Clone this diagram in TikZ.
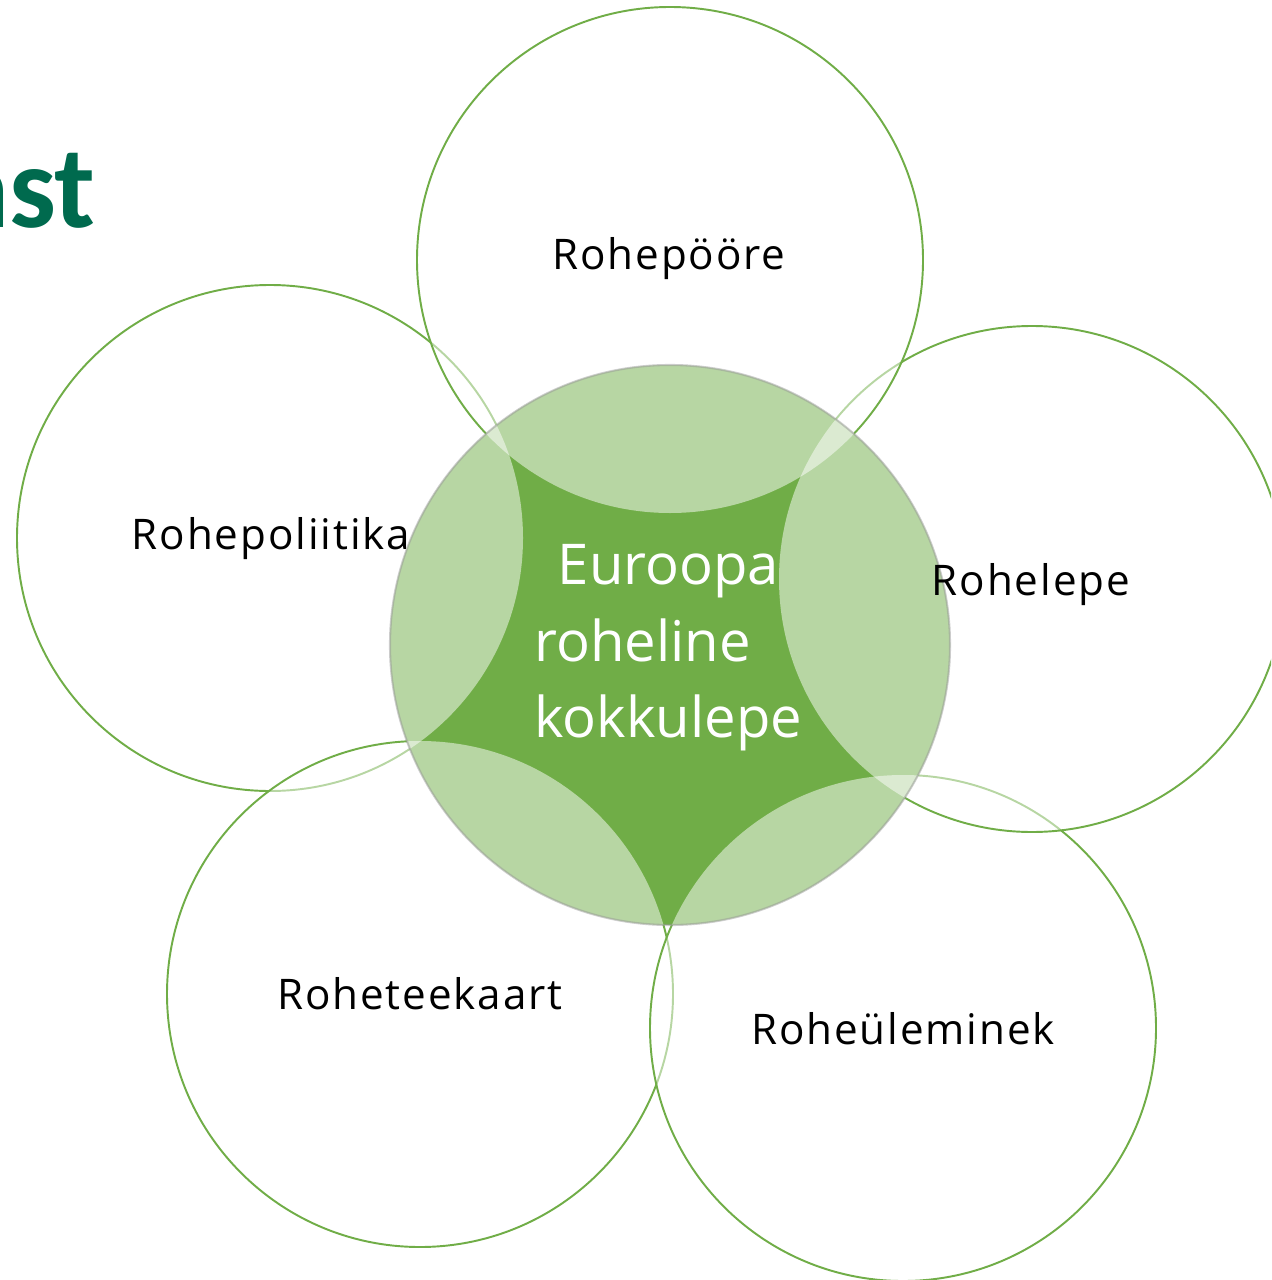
\documentclass[tikz,border=0pt]{standalone}
\usepackage{fontspec}
\setmainfont{Open Sans}
\newfontfamily\titlefont{Carlito}
\usepackage{xcolor}
\usepackage{tikz}
\usetikzlibrary{positioning, calc}

\definecolor{leaf}{HTML}{70AD47}
\definecolor{deepgreen}{HTML}{006A4E}

\tikzset{
  petal/.style={draw=leaf, line width=1.1pt, fill=white, fill opacity=0.5},
  veil/.style={fill=white, fill opacity=0.5},
  rim/.style={draw=black!40, draw opacity=0.5, line width=1.2pt},
  petallabel/.style={anchor=base, inner sep=0pt, font=\fontsize{24}{28}\selectfont\addfontfeatures{LetterSpace=4.5}},
  hublabel/.style={anchor=west, inner sep=0pt, align=left, text=white, font=\fontsize{32}{43.6}\selectfont}
}

\begin{document}
\begin{tikzpicture}[x=0.02cm, y=-0.02cm]
    \useasboundingbox (0,0) rectangle (1271,1280);
    \clip (0,0) rectangle (1271,1280);

    % pealkiri
    \node[anchor=base east, inner sep=0pt, text=deepgreen, font=\titlefont\bfseries\fontsize{67}{70}\selectfont] (title) at (96,228) {ast};

    % keskpunktid
    \coordinate (hub) at (670,645);
    \coordinate (top) at (670,260);
    \coordinate (lft) at (270,538);
    \coordinate (rgt) at (1032,579);
    \coordinate (blft) at (420,994);
    \coordinate (brgt) at (903,1028);

    % välimised ringid
    \foreach \c in {lft, blft, brgt, rgt, top}
        \path[petal] (\c) circle[radius=253];

    % keskmine ring
    \fill[leaf] (hub) circle[radius=280];
    \begin{scope}
        \clip (hub) circle[radius=280];
        \foreach \c in {lft, blft, brgt, rgt, top}
            \fill[veil] (\c) circle[radius=253];
    \end{scope}
    \draw[rim] (hub) circle[radius=280];

    % tekstid
    \node[petallabel] (ltop) at (669,270) {Rohepööre};
    \node[petallabel] (llft) at (271,549) {Rohepoliitika};
    \node[petallabel] (lrgt) at (1031,595) {Rohelepe};
    \node[petallabel] (lblft) at (420,1009) {Roheteekaart};
    \node[petallabel] (lbrgt) at (903,1044) {Roheüleminek};
    \node[hublabel] (lhub) at (534,648) {\hspace*{0.42em}Euroopa\\roheline\\kokkulepe};
\end{tikzpicture}
\end{document}
